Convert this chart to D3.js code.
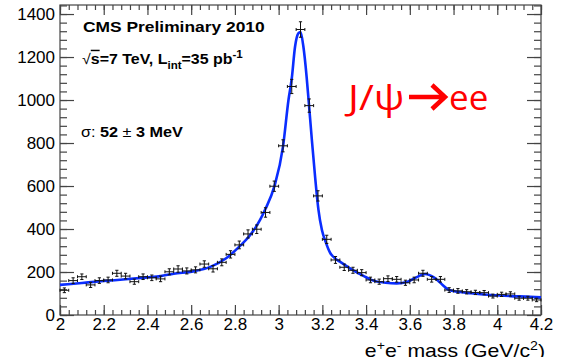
<!DOCTYPE html>
<html>
<head>
<meta charset="utf-8">
<script src="https://cdnjs.cloudflare.com/ajax/libs/d3/7.8.5/d3.min.js"></script>
<style>
  body { margin: 0; background: #fff; }
  svg { display: block; font-family: "Liberation Sans", Arial, sans-serif; }
</style>
</head>
<body>
<div id="chart"></div>
<script>
// bin centres (GeV/c^2), 40 MeV bins
const massBins = [2.02, 2.06, 2.10, 2.14, 2.18, 2.22, 2.26, 2.30, 2.34, 2.38, 2.42, 2.46,
    2.50, 2.54, 2.58, 2.62, 2.66, 2.70, 2.74, 2.78, 2.82, 2.86, 2.90, 2.94, 2.98,
    3.02, 3.06, 3.10, 3.14, 3.18, 3.22, 3.26, 3.30, 3.34, 3.38, 3.42, 3.46, 3.50,
    3.54, 3.58, 3.62, 3.66, 3.70, 3.74, 3.78, 3.82, 3.86, 3.90, 3.94, 3.98,
    4.02, 4.06, 4.10, 4.14, 4.18];
const counts = [115, 160, 178, 140, 160, 163, 194, 181, 155, 178, 173, 168,
    201, 214, 205, 210, 237, 215, 245, 282, 326, 377, 399, 477, 599,
    787, 1063, 1328, 974, 554, 352, 256, 222, 208, 197, 163, 155, 169,
    166, 150, 163, 194, 166, 166, 116, 112, 108, 105, 104, 88,
    96, 98, 78, 78, 70];
const errors = [11, 13, 13, 12, 13, 13, 14, 13, 12, 13, 13, 13,
    14, 15, 14, 14, 15, 15, 16, 17, 18, 19, 20, 22, 24,
    28, 33, 36, 31, 24, 19, 16, 15, 14, 14, 13, 12, 13,
    13, 12, 13, 14, 13, 13, 11, 11, 10, 10, 10, 9,
    10, 10, 9, 9, 8];
const binHalfWidth = 0.02;

// fitted curve
const fitMass = [2.00, 2.10, 2.20, 2.30, 2.40, 2.46, 2.52, 2.61, 2.69, 2.76, 2.82, 2.87,
    2.915, 2.94, 2.98, 3.02, 3.045, 3.06, 3.075, 3.09, 3.10, 3.113, 3.128, 3.137,
    3.152, 3.167, 3.182, 3.198, 3.215, 3.235, 3.26, 3.28, 3.33, 3.39, 3.43, 3.49,
    3.54, 3.59, 3.63, 3.67, 3.71, 3.75, 3.78, 3.82, 3.88, 3.97, 4.06, 4.15, 4.20];
const fitValue = [140, 149, 158, 166, 175, 181, 192, 203, 225, 264, 318, 372,
    442, 494, 597, 783, 1000, 1100, 1248, 1310, 1316, 1250, 1108, 1000,
    814, 640, 490, 395, 340, 290, 262, 248, 215, 181, 161, 150,
    147, 155, 175, 191, 175, 140, 116, 108, 101, 93, 88, 85, 82];

const xTicks = [2, 2.2, 2.4, 2.6, 2.8, 3, 3.2, 3.4, 3.6, 3.8, 4, 4.2];
const yTicks = [0, 200, 400, 600, 800, 1000, 1200, 1400];

const W = 571, H = 357;
const svg = d3.select('#chart').append('svg').attr('width', W).attr('height', H);
svg.append('rect').attr('width', W).attr('height', H).attr('fill', '#fff');

const x = d3.scaleLinear().domain([2, 4.2]).range([60, 541]);
const y = d3.scaleLinear().domain([0, 1442]).range([315, 5]);

const axisColour = '#444';

/* ------------------------------- frame + axes ------------------------------ */
svg.append('rect')
    .attr('x', 60).attr('y', 5)
    .attr('width', 481).attr('height', 310)
    .attr('fill', 'none').attr('stroke', axisColour).attr('stroke-width', 1.2);

const xMinor = d3.range(2, 4.2001, 0.04);
const yMinor = d3.range(0, 1442, 40);

function styleAxis(g) {
    g.select('.domain').remove();
    g.selectAll('line').attr('stroke', axisColour).attr('stroke-width', 1.2);
    g.selectAll('text').attr('fill', '#000').style('font-size', '17px')
        .style('font-family', '"Liberation Sans", Arial, sans-serif');
}

// bottom
svg.append('g').attr('transform', 'translate(0,315)')
    .call(d3.axisBottom(x).tickValues(xMinor).tickSize(-5).tickFormat(''))
    .call(styleAxis);
svg.append('g').attr('transform', 'translate(0,315)')
    .call(d3.axisBottom(x).tickValues(xTicks).tickSize(-10).tickPadding(3).tickFormat(d3.format('')))
    .call(styleAxis);
// top
svg.append('g').attr('transform', 'translate(0,5)')
    .call(d3.axisTop(x).tickValues(xMinor).tickSize(-5).tickFormat(''))
    .call(styleAxis);
svg.append('g').attr('transform', 'translate(0,5)')
    .call(d3.axisTop(x).tickValues(xTicks).tickSize(-10).tickFormat(''))
    .call(styleAxis);
// left
svg.append('g').attr('transform', 'translate(60,0)')
    .call(d3.axisLeft(y).tickValues(yMinor).tickSize(-7).tickFormat(''))
    .call(styleAxis);
svg.append('g').attr('transform', 'translate(60,0)')
    .call(d3.axisLeft(y).tickValues(yTicks).tickSize(-14).tickPadding(5).tickFormat(d3.format('')))
    .call(styleAxis);
// right
svg.append('g').attr('transform', 'translate(541,0)')
    .call(d3.axisRight(y).tickValues(yMinor).tickSize(-7).tickFormat(''))
    .call(styleAxis);
svg.append('g').attr('transform', 'translate(541,0)')
    .call(d3.axisRight(y).tickValues(yTicks).tickSize(-14).tickFormat(''))
    .call(styleAxis);

/* ---------------------------------- fit ----------------------------------- */
const fitLine = d3.line()
    .x((d, i) => x(fitMass[i]))
    .y(d => y(d))
    .curve(d3.curveMonotoneX);

svg.append('path')
    .datum(fitValue)
    .attr('d', fitLine)
    .attr('fill', 'none')
    .attr('stroke', '#0a2dff')
    .attr('stroke-width', 2.6)
    .attr('stroke-linejoin', 'round');

/* --------------------------------- points --------------------------------- */
const pts = svg.append('g').attr('stroke', '#111').attr('stroke-width', 1);
massBins.forEach((m, i) => {
    const cx = x(m), cy = y(counts[i]);
    const xl = x(m - binHalfWidth), xr = x(m + binHalfWidth);
    const yt = y(counts[i] + errors[i]), yb = y(counts[i] - errors[i]);
    const g = pts.append('g');
    g.append('line').attr('x1', xl).attr('x2', xr).attr('y1', cy).attr('y2', cy);
    g.append('line').attr('x1', xl).attr('x2', xl).attr('y1', cy - 1.5).attr('y2', cy + 1.5);
    g.append('line').attr('x1', xr).attr('x2', xr).attr('y1', cy - 1.5).attr('y2', cy + 1.5);
    g.append('line').attr('x1', cx).attr('x2', cx).attr('y1', yt).attr('y2', yb);
    g.append('line').attr('x1', cx - 1.6).attr('x2', cx + 1.6).attr('y1', yt).attr('y2', yt);
    g.append('line').attr('x1', cx - 1.6).attr('x2', cx + 1.6).attr('y1', yb).attr('y2', yb);
});

/* ---------------------------------- text ---------------------------------- */
// the original labels are a little wider than the font, so stretch them sideways
svg.append('text')
    .attr('transform', 'translate(83,32) scale(1.2,1)')
    .style('font-size', '14.5px').style('font-weight', 'bold')
    .text('CMS Preliminary 2010');

const t2 = svg.append('text')
    .attr('transform', 'translate(82,64) scale(1.1,1)')
    .style('font-size', '14.5px').style('font-weight', 'bold');
t2.append('tspan').style('font-weight', 'normal').text('√');
t2.append('tspan').style('text-decoration', 'overline').text('s');
t2.append('tspan').text('=7 TeV, L');
t2.append('tspan').attr('dy', 5).style('font-size', '10.5px').text('int');
t2.append('tspan').attr('dy', -5).text('=35 pb');
t2.append('tspan').attr('dy', -6).style('font-size', '10.5px').text('-1');

const t3 = svg.append('text')
    .attr('transform', 'translate(81,137) scale(1.12,1)')
    .style('font-size', '14.5px').style('font-weight', 'bold');
t3.append('tspan').style('font-weight', 'normal').text('σ: ');
t3.append('tspan').text('52 ');
t3.append('tspan').style('font-weight', 'normal').text('± ');
t3.append('tspan').text('3 MeV');

// J/psi -> ee label
svg.append('text')
    .attr('transform', 'translate(348,110) scale(1.16,1)')
    .attr('fill', '#ff0000')
    .style('font-family', '"Open Sans", "Noto Sans", sans-serif')
    .style('font-size', '35px')
    .text('J/ψ');
svg.append('path')
    .attr('d', 'M409,97 L444,97 M432,85 L445,97 L432,109')
    .attr('fill', 'none').attr('stroke', '#ff0000').attr('stroke-width', 4.5)
    .attr('stroke-linejoin', 'miter');
svg.append('text')
    .attr('x', 449).attr('y', 110)
    .attr('fill', '#ff0000')
    .style('font-family', '"Open Sans", "Noto Sans", sans-serif')
    .style('font-size', '35px')
    .text('ee');

// x-axis title (cut by the bottom edge, as in the original)
const xt = svg.append('text')
    .attr('transform', 'translate(545,357) scale(1.18,1)')
    .attr('text-anchor', 'end')
    .style('font-size', '18px');
xt.append('tspan').text('e');
xt.append('tspan').attr('dy', -7).style('font-size', '12px').text('+');
xt.append('tspan').attr('dy', 7).text('e');
xt.append('tspan').attr('dy', -7).style('font-size', '12px').text('-');
xt.append('tspan').attr('dy', 7).text(' mass (GeV/c');
xt.append('tspan').attr('dy', -7).style('font-size', '12px').text('2');
xt.append('tspan').attr('dy', 7).text(')');
</script>
</body>
</html>
